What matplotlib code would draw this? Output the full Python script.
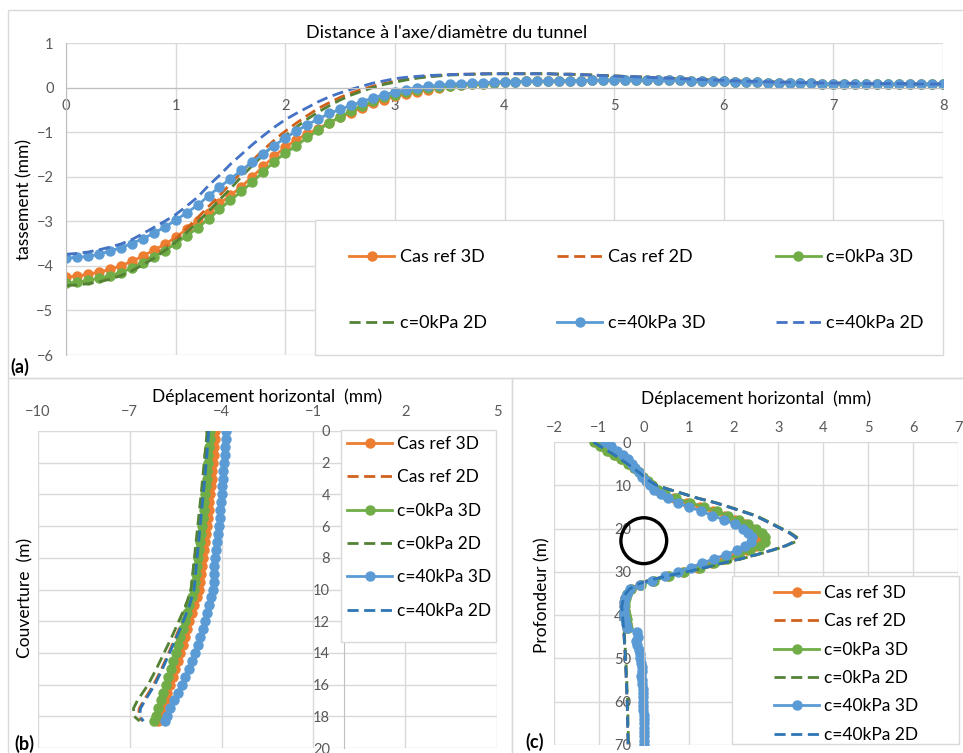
import numpy as np
import matplotlib.pyplot as plt
from matplotlib.patches import Rectangle, Ellipse

plt.rcParams['font.family'] = ['Lato', 'DejaVu Sans']

# ---------------------------------------------------------------
# (a) settlement trough: distance/diameter vs tassement (mm)
# ---------------------------------------------------------------
dist_a = [0.0, 0.1, 0.2, 0.3, 0.4, 0.5, 0.6, 0.7, 0.8, 0.9,
          1.0, 1.1, 1.2, 1.3, 1.4, 1.5, 1.6, 1.7, 1.8, 1.9,
          2.0, 2.1, 2.2, 2.3, 2.4, 2.5, 2.6, 2.7, 2.8, 2.9,
          3.0, 3.1, 3.2, 3.3, 3.4, 3.5, 3.6, 3.7, 3.8, 3.9,
          4.0, 4.1, 4.2, 4.3, 4.4, 4.5, 4.6, 4.7, 4.8, 4.9,
          5.0, 5.1, 5.2, 5.3, 5.4, 5.5, 5.6, 5.7, 5.8, 5.9,
          6.0, 6.1, 6.2, 6.3, 6.4, 6.5, 6.6, 6.7, 6.8, 6.9,
          7.0, 7.1, 7.2, 7.3, 7.4, 7.5, 7.6, 7.7, 7.8, 7.9, 8.0]

# far field (x = 4.0 .. 8.0), nearly identical for the three cases
tail_3d = [0.13, 0.13, 0.14, 0.14, 0.14, 0.15, 0.15, 0.15, 0.16, 0.16,
           0.17, 0.17, 0.17, 0.17, 0.16, 0.16, 0.16, 0.15, 0.15, 0.14,
           0.14, 0.13, 0.12, 0.12, 0.11, 0.11, 0.10, 0.10, 0.10, 0.09,
           0.09, 0.09, 0.09, 0.09, 0.08, 0.08, 0.08, 0.08, 0.08, 0.08, 0.08]
tail_2d = [0.31, 0.31, 0.31, 0.31, 0.31, 0.30, 0.30, 0.29, 0.28, 0.27,
           0.26, 0.25, 0.24, 0.23, 0.22, 0.21, 0.20, 0.19, 0.18, 0.17,
           0.16, 0.15, 0.14, 0.14, 0.13, 0.12, 0.12, 0.11, 0.11, 0.10,
           0.10, 0.10, 0.09, 0.09, 0.09, 0.09, 0.09, 0.08, 0.08, 0.08, 0.08]

# near field (x = 0.0 .. 3.9)
ref3d_a = [-4.25, -4.23, -4.19, -4.14, -4.08, -4.00, -3.90, -3.78, -3.65, -3.52,
           -3.36, -3.18, -3.00, -2.81, -2.60, -2.42, -2.22, -2.00, -1.77, -1.54,
           -1.34, -1.17, -1.04, -0.92, -0.79, -0.67, -0.56, -0.45, -0.35, -0.27,
           -0.20, -0.15, -0.10, -0.05, -0.01, 0.03, 0.05, 0.07, 0.09, 0.10] + tail_3d
ref2d_a = [-4.41, -4.40, -4.36, -4.31, -4.24, -4.16, -4.05, -3.92, -3.77, -3.60,
           -3.40, -3.16, -2.92, -2.67, -2.42, -2.16, -1.90, -1.64, -1.40, -1.18,
           -0.98, -0.80, -0.63, -0.47, -0.34, -0.22, -0.12, -0.04, 0.03, 0.09,
           0.14, 0.18, 0.22, 0.25, 0.27, 0.29, 0.30, 0.30, 0.31, 0.31] + tail_2d
c0_3d_a = [-4.38, -4.37, -4.32, -4.28, -4.22, -4.15, -4.05, -3.94, -3.80, -3.66,
           -3.50, -3.33, -3.15, -2.95, -2.73, -2.53, -2.33, -2.12, -1.89, -1.66,
           -1.47, -1.31, -1.12, -0.96, -0.79, -0.66, -0.52, -0.41, -0.31, -0.22,
           -0.16, -0.10, -0.06, -0.02, 0.01, 0.04, 0.06, 0.08, 0.09, 0.10] + tail_3d
c0_2d_a = [-4.44, -4.43, -4.40, -4.36, -4.30, -4.22, -4.11, -3.98, -3.83, -3.66,
           -3.47, -3.25, -3.02, -2.78, -2.52, -2.27, -2.00, -1.75, -1.51, -1.28,
           -1.08, -0.89, -0.71, -0.55, -0.41, -0.28, -0.17, -0.08, 0.00, 0.07,
           0.12, 0.17, 0.21, 0.24, 0.26, 0.28, 0.29, 0.30, 0.30, 0.31] + tail_2d
c40_3d_a = [-3.83, -3.81, -3.79, -3.74, -3.67, -3.59, -3.50, -3.39, -3.27, -3.13,
            -2.98, -2.81, -2.64, -2.43, -2.23, -2.05, -1.86, -1.67, -1.48, -1.30,
            -1.13, -0.98, -0.83, -0.71, -0.58, -0.49, -0.40, -0.32, -0.23, -0.16,
            -0.10, -0.05, 0.00, 0.03, 0.05, 0.08, 0.09, 0.10, 0.11, 0.12] + tail_3d
c40_2d_a = [-3.74, -3.72, -3.69, -3.64, -3.58, -3.51, -3.41, -3.28, -3.14, -3.00,
            -2.85, -2.66, -2.46, -2.20, -1.97, -1.72, -1.50, -1.28, -1.08, -0.89,
            -0.72, -0.58, -0.45, -0.32, -0.21, -0.12, -0.04, 0.03, 0.10, 0.15,
            0.20, 0.23, 0.25, 0.27, 0.28, 0.29, 0.30, 0.30, 0.31, 0.31] + tail_2d

# ---------------------------------------------------------------
# (b) horizontal displacement over the cover (m)
# ---------------------------------------------------------------
cover_b3d = [0, 0.5, 1, 1.5, 2, 2.5, 3, 3.5, 4, 4.5, 5, 5.5, 6, 6.5, 7, 7.5, 8, 8.5, 9, 9.5,
             10, 10.5, 11, 11.5, 12, 12.5, 13, 13.5, 14, 14.5, 15, 15.5, 16, 16.5, 17, 17.5,
             18, 18.3]
ref3d_b = [-4.22, -4.23, -4.25, -4.26, -4.28, -4.30, -4.32, -4.35, -4.37, -4.40,
           -4.42, -4.45, -4.47, -4.50, -4.53, -4.56, -4.60, -4.63, -4.67, -4.71,
           -4.75, -4.82, -4.90, -4.97, -5.05, -5.12, -5.20, -5.27, -5.35, -5.43,
           -5.51, -5.60, -5.68, -5.77, -5.85, -5.94, -6.02, -6.07]
c0_3d_b = [-4.38, -4.39, -4.41, -4.43, -4.45, -4.47, -4.49, -4.52, -4.54, -4.56,
           -4.59, -4.61, -4.64, -4.67, -4.70, -4.73, -4.76, -4.80, -4.83, -4.86,
           -4.90, -4.97, -5.05, -5.12, -5.20, -5.27, -5.35, -5.42, -5.50, -5.58,
           -5.66, -5.74, -5.82, -5.90, -5.99, -6.08, -6.16, -6.21]
c40_3d_b = [-3.84, -3.86, -3.88, -3.90, -3.92, -3.94, -3.96, -3.98, -4.00, -4.02,
            -4.04, -4.06, -4.08, -4.11, -4.15, -4.18, -4.22, -4.24, -4.25, -4.26,
            -4.28, -4.34, -4.40, -4.47, -4.54, -4.62, -4.70, -4.78, -4.87, -4.97,
            -5.08, -5.19, -5.30, -5.42, -5.55, -5.67, -5.78, -5.84]

cover_b2d = [0, 2, 4, 6, 8, 10, 11, 12, 13, 14, 15, 16, 17, 17.5, 18, 18.3]
ref2d_b = [-4.44, -4.52, -4.62, -4.72, -4.82, -4.93, -5.08, -5.28, -5.50, -5.73,
           -5.96, -6.22, -6.54, -6.69, -6.72, -6.58]
c0_2d_b = [-4.47, -4.57, -4.67, -4.78, -4.89, -5.00, -5.17, -5.40, -5.63, -5.88,
           -6.13, -6.40, -6.75, -6.88, -6.86, -6.68]
c40_2d_b = [-4.42, -4.50, -4.60, -4.70, -4.80, -4.90, -5.05, -5.25, -5.47, -5.70,
            -5.93, -6.18, -6.50, -6.65, -6.68, -6.55]

# ---------------------------------------------------------------
# (c) horizontal displacement over depth (m), tunnel at ~23 m
# ---------------------------------------------------------------
depth_c3d = list(range(0, 71))
depth_c3d_short = list(range(0, 44))
ref3d_c = [-1.05, -0.92, -0.77, -0.62, -0.48, -0.33, -0.21, -0.10, -0.01, 0.08,
           0.18, 0.30, 0.45, 0.68, 0.96, 1.26, 1.55, 1.80, 2.04, 2.25,
           2.42, 2.55, 2.62, 2.60, 2.50, 2.30, 2.06, 1.79, 1.51, 1.21,
           0.87, 0.53, 0.21, -0.08, -0.29, -0.37, -0.41, -0.43, -0.43, -0.42,
           -0.41, -0.39, -0.38, -0.37]
c0_3d_c = [-1.12, -0.97, -0.81, -0.66, -0.51, -0.35, -0.22, -0.11, -0.01, 0.09,
           0.19, 0.32, 0.48, 0.72, 1.02, 1.34, 1.64, 1.88, 2.12, 2.33,
           2.50, 2.63, 2.70, 2.69, 2.59, 2.37, 2.13, 1.86, 1.57, 1.26,
           0.90, 0.56, 0.23, -0.07, -0.28, -0.37, -0.40, -0.42, -0.42, -0.41,
           -0.40, -0.38, -0.37, -0.36]
c40_3d_c = [-0.86, -0.73, -0.60, -0.46, -0.36, -0.26, -0.19, -0.11, -0.03, 0.05,
            0.14, 0.23, 0.38, 0.53, 0.76, 1.01, 1.28, 1.53, 1.79, 2.03,
            2.20, 2.33, 2.41, 2.38, 2.25, 2.08, 1.83, 1.56, 1.30, 1.05,
            0.77, 0.47, 0.18, -0.09, -0.30, -0.38, -0.42, -0.44, -0.45, -0.45,
            -0.44, -0.42, -0.40, -0.37, -0.15, -0.12, -0.18, -0.15, -0.11, -0.09,
            -0.08, -0.06, -0.04, -0.05, -0.06, -0.04, -0.03, -0.02, -0.02, -0.02,
            -0.02, -0.01, -0.01, 0.00, 0.00, 0.00, 0.00, 0.00, 0.00, 0.00, 0.00]

depth_c2d = [0, 1, 3, 5, 7, 9, 10, 11, 12, 13, 14, 15, 16, 17, 18, 19, 20, 21, 22, 22.5,
             23, 24, 25, 26, 27, 28, 29, 30, 31, 32, 33, 34, 35, 36, 38, 43, 50, 60, 70]
ref2d_c = [-1.12, -0.97, -0.65, -0.37, -0.11, 0.13, 0.28, 0.57, 0.89, 1.20,
           1.58, 1.89, 2.18, 2.47, 2.67, 2.86, 3.05, 3.24, 3.38, 3.41,
           3.36, 3.15, 2.85, 2.52, 2.15, 1.75, 1.37, 0.95, 0.50, 0.10,
           -0.17, -0.32, -0.40, -0.45, -0.49, -0.45, -0.41, -0.37, -0.35]
c0_2d_c = [-1.12, -0.97, -0.65, -0.37, -0.11, 0.13, 0.29, 0.58, 0.90, 1.22,
           1.60, 1.91, 2.21, 2.50, 2.70, 2.89, 3.08, 3.27, 3.41, 3.44,
           3.39, 3.17, 2.87, 2.54, 2.17, 1.77, 1.39, 0.97, 0.52, 0.12,
           -0.16, -0.31, -0.39, -0.44, -0.48, -0.44, -0.40, -0.36, -0.34]
c40_2d_c = [-1.12, -0.97, -0.65, -0.37, -0.11, 0.13, 0.28, 0.57, 0.89, 1.20,
            1.58, 1.89, 2.18, 2.47, 2.67, 2.86, 3.05, 3.24, 3.38, 3.41,
            3.36, 3.15, 2.85, 2.52, 2.15, 1.75, 1.37, 0.95, 0.50, 0.10,
            -0.17, -0.32, -0.40, -0.45, -0.49, -0.45, -0.41, -0.37, -0.35]

labels = ['Cas ref 3D', 'Cas ref 2D', 'c=0kPa 3D', 'c=0kPa 2D', 'c=40kPa 3D', 'c=40kPa 2D']

# ---------------------------------------------------------------
# styling
# ---------------------------------------------------------------
ORANGE, ORANGE_D = '#ED7D31', '#D0611C'
GREEN, GREEN_D = '#70AD47', '#548235'
BLUE = '#5B9BD5'
BLUE_D_A, BLUE_D = '#4472C4', '#2E75B6'
GRID = '#D9D9D9'
AXIS = '#BFBFBF'
TICK = '#595959'
DASH = (0, (4, 2))
MS = 6.5
LW = 2.0

W, H = 963, 753


def fx(px):
    return px / W


def fy(py):
    return 1 - py / H


def styles(blue_dash):
    solid = dict(ls='-', lw=LW, marker='o', ms=MS)
    dash = dict(ls=DASH, lw=LW)
    return [dict(color=ORANGE, mfc=ORANGE, mec=ORANGE, **solid),
            dict(color=ORANGE_D, **dash),
            dict(color=GREEN, mfc=GREEN, mec=GREEN, **solid),
            dict(color=GREEN_D, **dash),
            dict(color=BLUE, mfc=BLUE, mec=BLUE, **solid),
            dict(color=blue_dash, **dash)]


def base_style(ax):
    for s in ax.spines.values():
        s.set_visible(False)
    ax.grid(True, color=GRID, lw=1.0)
    ax.set_axisbelow(True)
    ax.tick_params(length=0, colors=TICK, labelsize=10.5)


fig = plt.figure(figsize=(W / 100, H / 100), dpi=100)

# panel frames
for x0, y0, x1, y1 in [(8, 10, 975, 378), (8, 378, 512, 760), (512, 378, 975, 760)]:
    fig.add_artist(Rectangle((fx(x0), fy(y1)), (x1 - x0) / W, (y1 - y0) / H,
                             transform=fig.transFigure, fill=False, ec=GRID, lw=1.0))

# ---------------- (a) ----------------
ax_a = fig.add_axes([fx(66), fy(355), 877 / W, 312 / H])
base_style(ax_a)
st = styles(BLUE_D_A)
for y, s, lab in zip([ref3d_a, ref2d_a, c0_3d_a, c0_2d_a, c40_3d_a, c40_2d_a], st, labels):
    ax_a.plot(dist_a, y, label=lab, **s)
ax_a.set_xlim(0, 8)
ax_a.set_ylim(-6, 1)
ax_a.set_xticks(range(0, 9))
ax_a.set_yticks(range(-6, 2))
ax_a.spines['bottom'].set_visible(True)
ax_a.spines['bottom'].set_position(('data', 0))
ax_a.spines['bottom'].set_color(AXIS)
ax_a.spines['left'].set_visible(True)
ax_a.spines['left'].set_color(AXIS)
ax_a.tick_params(axis='x', pad=8)
ax_a.tick_params(axis='y', pad=9)
ax_a.set_ylabel('tassement (mm)', fontsize=12.5, labelpad=3)
fig.text(fx(447), fy(32), "Distance à l'axe/diamètre du tunnel", ha='center', va='center',
         fontsize=13)
fig.text(fx(10), fy(367), '(a)', fontsize=13, fontweight='bold', va='center')

fig.add_artist(Rectangle((fx(315), fy(355)), 628 / W, 135 / H, transform=fig.transFigure,
                         fc='white', ec=GRID, lw=1.0))
h, l = ax_a.get_legend_handles_labels()
# legend is filled row by row in the reference -> reorder for column-major filling
order = [0, 3, 1, 4, 2, 5]
fig.legend([h[i] for i in order], [l[i] for i in order], loc='upper left',
           bbox_to_anchor=(fx(349), fy(249)), ncol=3,
           frameon=False, borderpad=0, borderaxespad=0, fontsize=13,
           handlelength=2.5, handletextpad=0.3, labelspacing=2.77, columnspacing=3.9)

# ---------------- (b) ----------------
ax_b = fig.add_axes([fx(38), fy(748), 459 / W, 317 / H])
base_style(ax_b)
st = styles(BLUE_D)
series_b = [(ref3d_b, cover_b3d), (ref2d_b, cover_b2d), (c0_3d_b, cover_b3d),
            (c0_2d_b, cover_b2d), (c40_3d_b, cover_b3d), (c40_2d_b, cover_b2d)]
for (x, y), s, lab in zip(series_b, st, labels):
    ax_b.plot(x, y, label=lab, **s)
ax_b.set_xlim(-10, 5)
ax_b.set_ylim(20, 0)
ax_b.set_xticks([-10, -7, -4, -1, 2, 5])
ax_b.set_yticks(range(0, 21, 2))
ax_b.xaxis.tick_top()
ax_b.xaxis.set_label_position('top')
ax_b.spines['left'].set_visible(True)
ax_b.spines['left'].set_position(('data', 0))
ax_b.spines['left'].set_color(AXIS)
ax_b.tick_params(axis='x', pad=9)
ax_b.tick_params(axis='y', pad=10)
ax_b.set_xlabel('Déplacement horizontal  (mm)', fontsize=12.5, labelpad=2)
fig.text(fx(25), fy(598), 'Couverture  (m)', rotation=90, fontsize=12.5,
         ha='center', va='center')
fig.text(fx(14), fy(744), '(b)', fontsize=13, fontweight='bold', va='center')

fig.add_artist(Rectangle((fx(341), fy(642)), 155 / W, 212 / H, transform=fig.transFigure,
                         fc='white', ec=GRID, lw=1.0))
h, l = ax_b.get_legend_handles_labels()
fig.legend(h, l, loc='upper left', bbox_to_anchor=(fx(347), fy(436)), ncol=1,
           frameon=False, borderpad=0, borderaxespad=0, fontsize=12.5,
           handlelength=2.6, handletextpad=0.3, labelspacing=1.0)

# ---------------- (c) ----------------
ax_c = fig.add_axes([fx(554), fy(745), 404 / W, 303 / H])
base_style(ax_c)
series_c = [(ref3d_c, depth_c3d_short), (ref2d_c, depth_c2d), (c0_3d_c, depth_c3d_short),
            (c0_2d_c, depth_c2d), (c40_3d_c, depth_c3d), (c40_2d_c, depth_c2d)]
for (x, y), s, lab in zip(series_c, st, labels):
    ax_c.plot(x, y, label=lab, **s)
ax_c.add_patch(Ellipse((0, 22.8), 1.02, 10.6, fill=False, ec='black', lw=2.4, zorder=5))
ax_c.set_xlim(-2, 7)
ax_c.set_ylim(70, 0)
ax_c.set_xticks(range(-2, 8))
ax_c.set_yticks(range(0, 71, 10))
ax_c.xaxis.tick_top()
ax_c.xaxis.set_label_position('top')
ax_c.spines['left'].set_visible(True)
ax_c.spines['left'].set_position(('data', 0))
ax_c.spines['left'].set_color(AXIS)
ax_c.tick_params(axis='x', pad=5)
ax_c.tick_params(axis='y', pad=9)
ax_c.set_xlabel('Déplacement horizontal  (mm)', fontsize=12.5, labelpad=12)
fig.text(fx(542), fy(595), 'Profondeur (m)', rotation=90, fontsize=12.5,
         ha='center', va='center')
fig.text(fx(525), fy(742), '(c)', fontsize=13, fontweight='bold', va='center')

fig.add_artist(Rectangle((fx(732), fy(744)), 227 / W, 168 / H, transform=fig.transFigure,
                         fc='white', ec=GRID, lw=1.0))
h, l = ax_c.get_legend_handles_labels()
fig.legend(h, l, loc='upper left', bbox_to_anchor=(fx(774), fy(585)), ncol=1,
           frameon=False, borderpad=0, borderaxespad=0, fontsize=12.5,
           handlelength=2.6, handletextpad=0.3, labelspacing=0.71)

fig.savefig('out.png', dpi=100)
